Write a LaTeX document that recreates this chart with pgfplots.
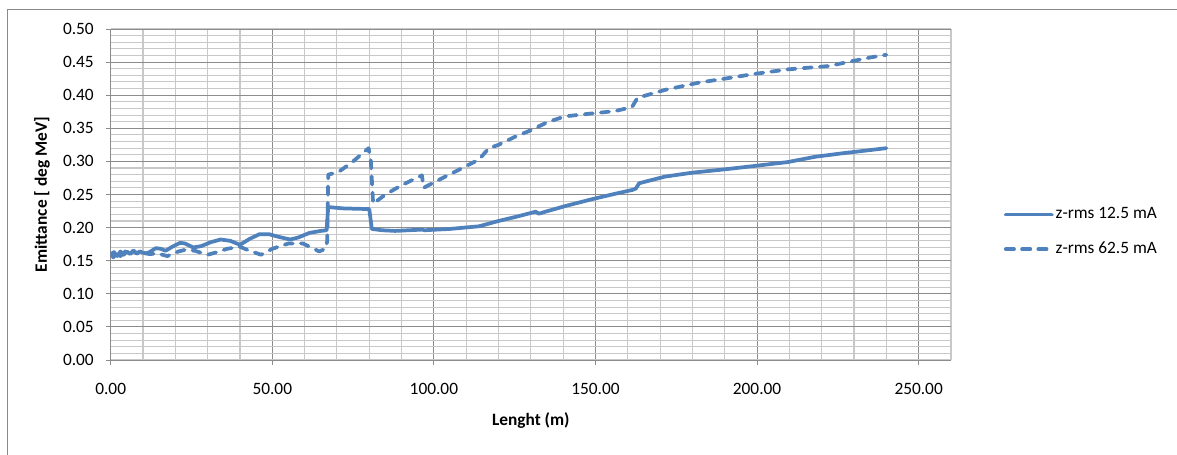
\documentclass[border=0pt]{standalone}
\usepackage{fontspec}
\setmainfont{Carlito}
\usepackage{pgfplots}
\pgfplotsset{compat=1.18}

\definecolor{xlblue}{HTML}{4F81BD}
\definecolor{gridmajor}{HTML}{8C8C8C}
\definecolor{gridminor}{HTML}{C8C8C8}
\definecolor{frame}{HTML}{8A8A8A}

\newcommand{\chartfont}{\fontsize{13}{15}\selectfont}

\begin{document}
\begin{tikzpicture}[x=1pt,y=1pt]
\path[use as bounding box] (0,0) rectangle (882.75,340.5);
% chart frame
\draw[frame, line width=0.75pt] (5.25,-10) -- (5.25,333.5) -- (900,333.5);
\begin{axis}[
  at={(83.03pt,70.5pt)}, anchor=south west,
  scale only axis, width=630.2pt, height=248.25pt,
  xmin=0, xmax=260, ymin=0, ymax=0.5,
  axis x line*=bottom, axis y line*=left,
  axis line style={gridmajor, line width=0.75pt},
  xtick={0,50,100,150,200,250},
  ytick={0,0.05,0.1,0.15,0.2,0.25,0.3,0.35,0.4,0.45,0.5},
  minor xtick={0,10,...,260},
  minor ytick={0,0.01,...,0.5},
  grid=both,
  major grid style={gridmajor, line width=0.75pt},
  minor grid style={gridminor, line width=0.8pt},
  tick align=outside, major tick length=3.5pt, minor tick length=0pt,
  tick style={gridmajor, line width=0.75pt},
  scaled ticks=false,
  tick label style={font=\chartfont,
    /pgf/number format/fixed, /pgf/number format/fixed zerofill,
    /pgf/number format/precision=2, /pgf/number format/assume math mode=true},
  xticklabel style={anchor=north, inner sep=0pt, yshift=-14pt},
  yticklabel style={anchor=east, inner sep=0pt, xshift=-9pt},
  xlabel={\textbf{Lenght (m)}},
  ylabel={\textbf{Emittance [ deg MeV]}},
  label style={font=\chartfont},
  x label style={at={(axis description cs:0.5,-0.184)}, anchor=center},
  y label style={at={(axis description cs:-0.0818,0.5)}, anchor=center},
  legend style={at={(axis description cs:1.063,0.387)}, anchor=west,
    draw=none, fill=none, inner sep=0pt, outer sep=0pt, row sep=11pt,
    font=\chartfont, nodes={inner sep=1.5pt, text height=9pt, text depth=3pt}},
  legend cell align=left,
  legend image code/.code={\draw[#1] (0pt,0pt) -- (34.5pt,0pt);},
  emit/.style={xlblue, no markers, line width=2.8pt, line join=round, line cap=round},
]
\addplot[emit] coordinates {
 (0,0.158) (1,0.163) (2,0.157) (3,0.164) (4,0.159) (5,0.164) (6,0.160)
 (7,0.165) (8,0.161) (9,0.164) (10,0.162) (11,0.161) (12,0.163) (14,0.169)
 (15.5,0.168) (17,0.165) (19,0.171) (21.5,0.177) (23,0.176) (25.5,0.170)
 (28,0.172) (31,0.178) (34,0.182) (37,0.180) (40,0.174) (43,0.183)
 (46,0.190) (49,0.190) (52,0.186) (55.5,0.182) (58,0.185) (61.5,0.192)
 (65,0.195) (66.8,0.196) (67.3,0.231) (72,0.229) (80,0.228) (80.8,0.198)
 (84,0.196) (88,0.195) (96.5,0.197) (97,0.196) (105,0.198) (114,0.202)
 (120,0.210) (126,0.217) (131.5,0.224) (132.5,0.221) (134.5,0.224)
 (141,0.233) (149,0.243) (156,0.251) (161.5,0.257) (162.5,0.259)
 (163.5,0.267) (171.5,0.277) (180,0.283) (190,0.288) (199,0.293)
 (209.5,0.299) (218,0.307) (226,0.312) (233,0.316) (240,0.320)
};
\addlegendentry{z-rms 12.5 mA}
\addplot[emit, dash pattern=on 6.2pt off 6pt] coordinates {
 (0,0.162) (0.8,0.155) (2,0.163) (3,0.157) (4.5,0.164) (5.5,0.158)
 (7,0.165) (8.5,0.160) (10,0.162) (12,0.160) (14.5,0.161) (17.5,0.157)
 (21,0.164) (23.5,0.167) (26,0.165) (30,0.159) (33,0.163) (36,0.168)
 (40,0.171) (43,0.165) (46.5,0.159) (50,0.168) (55,0.176) (59.5,0.176)
 (62,0.170) (64.5,0.164) (66.5,0.168) (67,0.180) (67.3,0.280) (70.5,0.284)
 (75,0.300) (79.8,0.320) (80.5,0.300) (81.2,0.236) (85,0.250) (90,0.264)
 (96.3,0.279) (96.8,0.260) (101.5,0.272) (108,0.288) (114,0.303)
 (117,0.320) (120,0.325) (125,0.337) (130,0.347) (135,0.359) (140.5,0.368)
 (150,0.373) (156,0.376) (161.3,0.382) (163,0.396) (171.5,0.408)
 (182,0.419) (190,0.425) (199,0.432) (209.5,0.439) (222,0.444)
 (229,0.451) (235,0.457) (240,0.461)
};
\addlegendentry{z-rms 62.5 mA}
\end{axis}
\end{tikzpicture}
\end{document}
